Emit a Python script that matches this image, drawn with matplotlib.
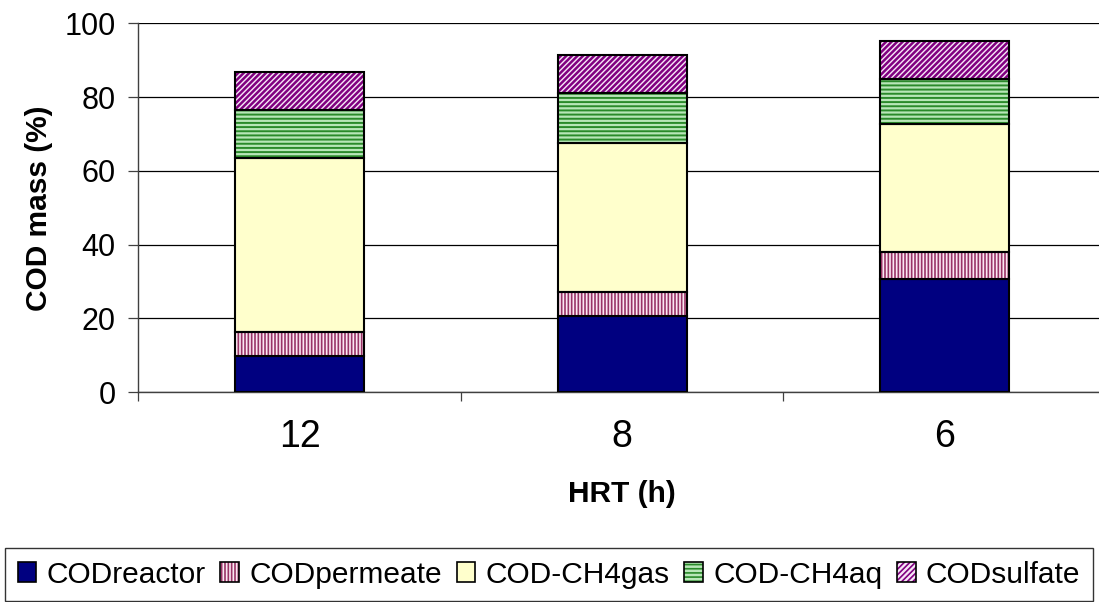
import matplotlib
matplotlib.use("Agg")
import matplotlib.pyplot as plt
import numpy as np
from matplotlib.patches import Patch
from matplotlib.legend_handler import HandlerTuple

# COD mass balance (% of influent COD) at each hydraulic retention time
hrt_labels = ["12", "8", "6"]
series_names = ["CODreactor", "CODpermeate", "COD-CH4gas", "COD-CH4aq", "CODsulfate"]
cod_reactor = [9.8, 20.7, 30.6]
cod_permeate = [6.5, 6.6, 7.5]
cod_ch4_gas = [47.1, 40.2, 34.5]
cod_ch4_aq = [13.1, 13.5, 12.3]
cod_sulfate = [10.4, 10.4, 10.4]

series_values = [cod_reactor, cod_permeate, cod_ch4_gas, cod_ch4_aq, cod_sulfate]
# (face colour, hatch pattern, hatch colour, hatch line width)
styles = [
    ("#000080", "", None, None),
    ("#fbe8f2", "|||||", "#993366", 1.2),
    ("#ffffcc", "", None, None),
    ("#b8e6b8", "----", "#2a8a2a", 1.4),
    ("#f6e6f6", "//////", "#800080", 1.8),
]

plt.rcParams["font.family"] = ["Liberation Sans", "DejaVu Sans"]
plt.rcParams["hatch.linewidth"] = 1.2

fig = plt.figure(figsize=(10.99, 6.02), dpi=100)
W, H = 1099, 602
ax = fig.add_axes([138.3 / W, 1 - 392.3 / H, 967.5 / W, 369.0 / H])

x = np.arange(len(hrt_labels))
bar_w = 0.40
bottom = np.zeros(len(x))
handles = []
for name, vals, (face, hatch, hcol, hlw) in zip(series_names, series_values, styles):
    vals = np.asarray(vals, dtype=float)
    if hatch:
        with plt.rc_context({"hatch.linewidth": hlw}):
            ax.bar(x, vals, bar_w, bottom=bottom, color=face, hatch=hatch,
                   edgecolor=hcol, linewidth=0, zorder=3)
            hp = Patch(facecolor=face, hatch=hatch, edgecolor=hcol, linewidth=0)
        ax.bar(x, vals, bar_w, bottom=bottom, fill=False,
               edgecolor="black", linewidth=1.5, zorder=4)
        h = (hp, Patch(fill=False, edgecolor="black", linewidth=1.2))
    else:
        ax.bar(x, vals, bar_w, bottom=bottom, color=face,
               edgecolor="black", linewidth=1.5, zorder=3)
        h = Patch(facecolor=face, edgecolor="black", linewidth=1.2)
    handles.append(h)
    bottom += vals

ax.set_xlim(-0.5, len(x) - 0.5)
ax.set_ylim(0, 100)

# horizontal gridlines
ax.set_yticks(np.arange(0, 101, 20))
ax.yaxis.grid(True, color="black", linewidth=0.9, zorder=0)
ax.set_axisbelow(True)

for s in ["top", "right"]:
    ax.spines[s].set_visible(False)
ax.spines["left"].set_color("#404040")
ax.spines["bottom"].set_color("#404040")
ax.spines["left"].set_linewidth(1.0)
ax.spines["bottom"].set_linewidth(1.0)

ax.tick_params(axis="y", direction="out", length=7.2, width=0.9, color="#404040",
               labelsize=22, pad=9)

# category labels at centres, tick marks at category boundaries
ax.set_xticks(x)
ax.set_xticklabels(hrt_labels)
ax.tick_params(axis="x", which="major", length=0, labelsize=27, pad=19)
ax.set_xticks(np.arange(-0.5, len(x) + 0.5, 1.0), minor=True)
ax.tick_params(axis="x", which="minor", direction="out", length=6.5, width=0.9,
               color="#404040")

ax.set_ylabel("COD mass (%)", fontsize=21.5, fontweight="bold")
ax.yaxis.set_label_coords(-0.088, 0.5)
ax.set_xlabel("HRT (h)", fontsize=21.5, fontweight="bold")
ax.xaxis.set_label_coords(0.5, -0.238)

leg = fig.legend(handles, series_names, loc="upper left", ncol=5,
                 bbox_to_anchor=(5 / W, 1 - 548 / H, 1088 / W, 0.0),
                 mode="expand", borderaxespad=0, fontsize=21.5,
                 handlelength=0.62, handleheight=0.62, handletextpad=0.34,
                 columnspacing=0.5, borderpad=0.42, frameon=True, fancybox=False,
                 handler_map={tuple: HandlerTuple(ndivide=1, pad=0)})
leg.get_frame().set_edgecolor("black")
leg.get_frame().set_linewidth(1.0)

fig.savefig("out.png", dpi=100)
